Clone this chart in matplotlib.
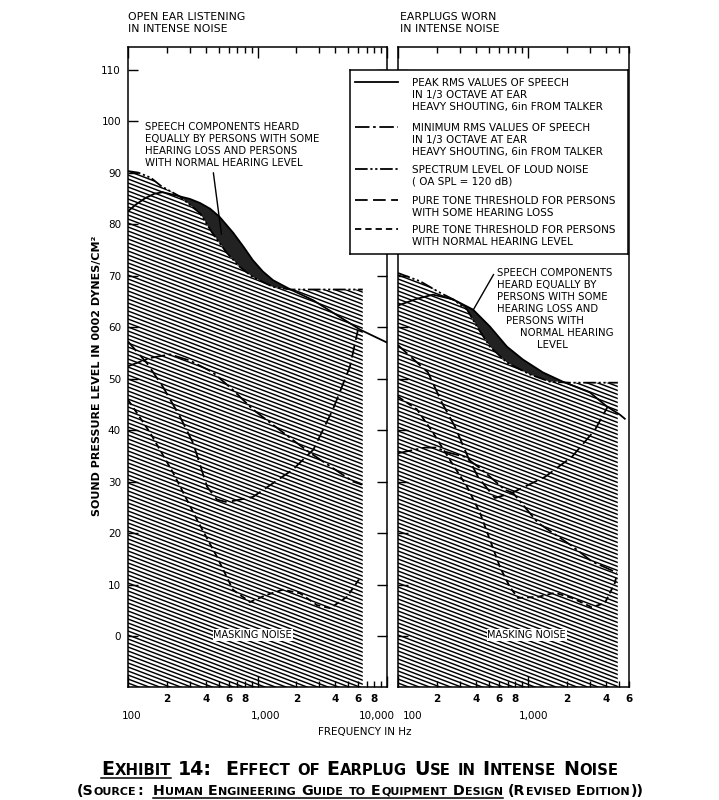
import numpy as np
import matplotlib
matplotlib.use("Agg")
import matplotlib.pyplot as plt
from matplotlib.collections import LineCollection
from matplotlib.lines import Line2D
from matplotlib.ticker import LogLocator, NullFormatter, FuncFormatter
from matplotlib.transforms import IdentityTransform

# ---- data (frequency in Hz, level in dB) ----
# open ear panel
open_noise_f = [100, 120, 150, 180, 250, 360, 450, 580, 730, 920, 1320, 1800, 6500]
open_noise_db = [90.3, 90.0, 89.0, 87.4, 85.4, 82.1, 78.2, 74.4, 71.7, 69.7, 67.8, 67.3, 67.3]
open_peak_f = [100, 115, 135, 160, 185, 250, 300, 360, 430, 510, 650, 780, 920, 1100, 1320, 1800,
               2700, 4000, 6200, 10000]
open_peak_db = [82.5, 83.8, 85.0, 85.9, 86.2, 85.4, 84.9, 84.1, 83.0, 81.4, 78.3, 75.6, 73.0, 70.8,
                69.1, 67.3, 65.2, 62.5, 59.5, 57.0]
open_min_f = [100, 148, 211, 301, 453, 646, 922, 1870, 2540, 5460, 6400]
open_min_db = [52.4, 54.0, 54.7, 53.5, 51.2, 47.8, 44.0, 38.1, 35.6, 30.0, 29.4]
open_loss_f = [100, 140, 186, 252, 318, 408, 486, 580, 920, 1870, 2700, 3820, 5170, 5970]
open_loss_db = [57.2, 53.0, 48.4, 42.6, 37.5, 29.0, 26.5, 26.0, 27.0, 32.3, 36.2, 44.0, 52.3, 59.5]
open_normal_f = [100, 148, 223, 341, 486, 646, 874, 1180, 1570, 2130, 2880, 3640, 4900, 6200]
open_normal_db = [45.9, 39.5, 31.7, 22.6, 15.4, 9.0, 6.6, 8.0, 9.0, 8.3, 6.0, 5.4, 7.6, 11.3]
open_dark = (250, 1800)

# earplugs panel
plug_noise_f = [100, 148, 210, 265, 340, 405, 510, 690, 1036, 1476, 2100, 4920]
plug_noise_db = [70.5, 68.9, 66.7, 65.4, 63.4, 60.1, 56.2, 53.1, 50.8, 49.4, 49.2, 49.2]
plug_peak_f = [100, 140, 186, 265, 378, 510, 690, 915, 1304, 1857, 3000, 4050, 5100, 5570]
plug_peak_db = [64.2, 65.5, 66.3, 65.4, 63.4, 60.1, 56.2, 53.7, 51.2, 49.4, 47.3, 44.6, 43.0, 42.2]
plug_min_f = [100, 161, 200, 230, 328, 443, 665, 767, 1194, 2180, 3100, 4840]
plug_min_db = [35.5, 36.6, 36.6, 35.8, 34.8, 32.3, 28.4, 27.8, 22.0, 17.5, 14.5, 12.3]
plug_loss_f = [100, 170, 218, 274, 345, 413, 557, 753, 1352, 2180, 3275, 4120]
plug_loss_db = [56.5, 51.2, 45.3, 40.7, 34.8, 30.9, 26.8, 27.8, 30.9, 34.8, 40.0, 44.6]
plug_normal_f = [100, 140, 186, 251, 340, 428, 510, 609, 727, 838, 1194, 1614, 2180, 3100, 3910, 4670, 4840]
plug_normal_db = [46.5, 44.0, 39.5, 34.2, 29.0, 23.9, 18.7, 13.4, 9.5, 7.4, 7.6, 8.4, 7.4, 5.6, 6.4, 10.3, 12.0]
plug_dark = (265, 1860)

y_ticks = list(range(0, 111, 10))
x_major_labels = {100: "100", 1000: "1,000", 10000: "10,000"}

legend_labels = [
    ["PEAK RMS VALUES OF SPEECH", "IN 1/3 OCTAVE AT EAR", "HEAVY SHOUTING, 6in FROM TALKER"],
    ["MINIMUM RMS VALUES OF SPEECH", "IN 1/3 OCTAVE AT EAR", "HEAVY SHOUTING, 6in FROM TALKER"],
    ["SPECTRUM LEVEL OF LOUD NOISE", "( OA SPL = 120 dB)"],
    ["PURE TONE THRESHOLD FOR PERSONS", "WITH SOME HEARING LOSS"],
    ["PURE TONE THRESHOLD FOR PERSONS", "WITH NORMAL HEARING LEVEL"],
]

# line styles
MIN_DASH = (8, 2, 1.5, 2)
NOISE_DASH = (7, 1.5, 1.2, 1.5, 1.2, 1.5)
LOSS_DASH = (7, 3)
NORMAL_DASH = (3.5, 2.2)

plt.rcParams["font.family"] = "DejaVu Sans"

W, H = 719, 800
fig = plt.figure(figsize=(W / 100, H / 100), dpi=100)
YMIN, YMAX = -9.9, 114.4


def fpos(x, y):
    # pixel from top-left -> figure fraction
    return x / W, 1 - y / H


def panel(rect_px, xmax, noise, peak, mn, loss, normal, dark, left_labels):
    x0, y0, x1, y1 = rect_px
    ax = fig.add_axes([x0 / W, 1 - y1 / H, (x1 - x0) / W, (y1 - y0) / H])
    ax.set_xscale("log")
    ax.set_xlim(100, xmax)
    ax.set_ylim(YMIN, YMAX)
    ax.set_axisbelow(False)
    for s in ax.spines.values():
        s.set_linewidth(1.1)

    nf, nd = np.array(noise[0], float), np.array(noise[1], float)
    # masking noise area with its slanted hatch
    region = ax.fill(np.r_[nf, nf[-1], nf[0]], np.r_[nd, YMIN, YMIN],
                     facecolor="white", edgecolor="none", zorder=1)[0]
    wpx, hpx = x1 - x0, y1 - y0
    k = 0.38 * wpx / hpx
    cs = np.arange(0, 1 + k + 0.01, 4.0 / hpx)
    segs = [[(0, c), (1, c - k)] for c in cs]
    lc = LineCollection(segs, colors="black", linewidths=1.05,
                        transform=ax.transAxes, zorder=1.5)
    lc.set_clip_path(region)
    ax.add_collection(lc, autolim=False)

    # speech above noise (dark band)
    pf, pd = np.array(peak[0], float), np.array(peak[1], float)
    m1 = (pf >= dark[0]) & (pf <= dark[1])
    m2 = (nf >= dark[0]) & (nf <= dark[1])
    ax.fill(np.r_[pf[m1], nf[m2][::-1]], np.r_[pd[m1], nd[m2][::-1]],
            facecolor="#222222", edgecolor="none", zorder=2)

    ax.plot(pf, pd, color="k", lw=1.3, zorder=3)
    ax.plot(mn[0], mn[1], color="k", lw=1.3, dashes=MIN_DASH, zorder=3)
    ax.plot(nf, nd, color="k", lw=1.3, dashes=NOISE_DASH, zorder=3)
    ax.plot(loss[0], loss[1], color="k", lw=1.3, dashes=LOSS_DASH, zorder=3)
    ax.plot(normal[0], normal[1], color="k", lw=1.3, dashes=NORMAL_DASH, zorder=3)

    # x ticks
    ax.xaxis.set_major_locator(LogLocator(base=10))
    ax.xaxis.set_minor_locator(LogLocator(base=10, subs=range(2, 10)))
    ax.xaxis.set_major_formatter(NullFormatter())

    def minor_fmt(v, p):
        m = int(round(v / 10 ** np.floor(np.log10(v))))
        return str(m) if m in (2, 4, 6, 8) else ""

    ax.xaxis.set_minor_formatter(FuncFormatter(minor_fmt))
    ax.tick_params(axis="x", which="both", direction="in", top=True, bottom=True,
                   labelsize=7.5, pad=5, width=1)
    ax.tick_params(axis="x", which="major", length=8)
    ax.tick_params(axis="x", which="minor", length=4.5)
    for tl in ax.xaxis.get_minorticklabels():
        tl.set_fontweight("bold")

    # y ticks
    ax.set_yticks(y_ticks)
    ax.tick_params(axis="y", which="both", direction="in", length=7, width=1,
                   left=True, right=left_labels, labelleft=left_labels,
                   labelsize=7.5, pad=5)
    ax.yaxis.set_minor_locator(plt.NullLocator())
    return ax


ax1 = panel((128, 47, 387, 687), 10000,
            (open_noise_f, open_noise_db), (open_peak_f, open_peak_db),
            (open_min_f, open_min_db), (open_loss_f, open_loss_db),
            (open_normal_f, open_normal_db), open_dark, True)
ax2 = panel((398, 47, 629, 687), 6000,
            (plug_noise_f, plug_noise_db), (plug_peak_f, plug_peak_db),
            (plug_min_f, plug_min_db), (plug_loss_f, plug_loss_db),
            (plug_normal_f, plug_normal_db), plug_dark, False)

# decade labels below the digit row
for ax, offs in ((ax1, {100: 4, 1000: 8, 10000: -10}), (ax2, {100: 15, 1000: 6})):
    for f, lab in x_major_labels.items():
        if f in offs:
            ax.annotate(lab, xy=(f, 0), xycoords=("data", "axes fraction"),
                        xytext=(offs[f], -29), textcoords="offset pixels",
                        ha="center", va="center", fontsize=7.5)

# masking noise labels
for ax, f in ((ax1, 920), (ax2, 980)):
    ax.text(f, 0.2, "MASKING NOISE", ha="center", va="center", fontsize=7,
            zorder=5, bbox=dict(facecolor="white", edgecolor="none", pad=0.6))

# panel headings
for x, lines in ((128, ["OPEN EAR LISTENING", "IN INTENSE NOISE"]),
                 (400, ["EARPLUGS WORN", "IN INTENSE NOISE"])):
    for i, s in enumerate(lines):
        fig.text(*fpos(x, 17 + 12 * i), s, ha="left", va="center", fontsize=7.8)

# axis titles
fig.text(*fpos(97, 376), "SOUND PRESSURE LEVEL IN 0002 DYNES/CM²", rotation=90,
         ha="center", va="center", fontsize=8, fontweight="bold")
fig.text(*fpos(365, 732), "FREQUENCY IN Hz", ha="center", va="center", fontsize=7.5)

# annotations
ann_left = ["SPEECH COMPONENTS HEARD", "EQUALLY BY PERSONS WITH SOME",
            "HEARING LOSS AND PERSONS", "WITH NORMAL HEARING LEVEL"]
for i, s in enumerate(ann_left):
    fig.text(*fpos(145, 127 + 12 * i), s, ha="left", va="center", fontsize=7.3)
ax1.annotate("", xy=(530, 77.5), xycoords="data", xytext=(213, H - 170),
             textcoords="figure pixels", arrowprops=dict(arrowstyle="-", lw=1, color="k"))

ann_right = [("SPEECH COMPONENTS", 497), ("HEARD EQUALLY BY", 497),
             ("PERSONS WITH SOME", 497), ("HEARING LOSS AND", 497),
             ("PERSONS WITH", 506), ("NORMAL HEARING", 520), ("LEVEL", 537)]
for i, (s, x) in enumerate(ann_right):
    fig.text(*fpos(x, 273 + 12 * i), s, ha="left", va="center", fontsize=7.3)
ax2.annotate("", xy=(371, 62.9), xycoords="data", xytext=(495, H - 272),
             textcoords="figure pixels", arrowprops=dict(arrowstyle="-", lw=1, color="k"))

# legend box
lx0, ly0, lx1, ly1 = 350, 70, 628, 254
axl = fig.add_axes([lx0 / W, 1 - ly1 / H, (lx1 - lx0) / W, (ly1 - ly0) / H])
axl.set_zorder(10)
axl.set_xlim(0, lx1 - lx0)
axl.set_ylim(ly1 - ly0, 0)
axl.set_xticks([])
axl.set_yticks([])
for s in axl.spines.values():
    s.set_linewidth(1.1)
row_top = [13, 58, 100, 131, 160]
styles = [dict(linestyle="-"), dict(dashes=MIN_DASH), dict(dashes=NOISE_DASH),
          dict(dashes=LOSS_DASH), dict(dashes=NORMAL_DASH)]
for y, lines, st in zip(row_top, legend_labels, styles):
    axl.plot([5, 48], [y - 1, y - 1], color="k", lw=1.3, **st)
    for i, s in enumerate(lines):
        axl.text(62, y + 11.8 * i, s, ha="left", va="center", fontsize=7.5)


# caption in small caps
def caption_line(text, underline, base_top, big, small, xc=360):
    renderer = fig.canvas.get_renderer()
    base = H - base_top
    sp = 0.32 * big * 100 / 72
    gap = 0.6
    items = []
    x = 0.0
    i = 0
    while i < len(text):
        if text[i] == " ":
            x += sp
            i += 1
            continue
        low = text[i].islower()
        j = i
        while j < len(text) and text[j] != " " and text[j].islower() == low:
            j += 1
        t = fig.text(0, base, text[i:j].upper(), fontsize=small if low else big,
                     fontweight="bold", transform=IdentityTransform(),
                     ha="left", va="baseline")
        w = t.get_window_extent(renderer).width
        items.append((t, x, w, i, j))
        x += w + gap
        i = j
    total = x - gap
    x0 = xc - total / 2
    for t, xx, w, i, j in items:
        t.set_x(x0 + xx)
    if underline:
        u0 = text.index(underline)
        u1 = u0 + len(underline)
        sel = [(xx, w) for t, xx, w, i, j in items if i >= u0 and j <= u1]
        left = x0 + min(s[0] for s in sel)
        right = x0 + max(s[0] + s[1] for s in sel)
        fig.add_artist(Line2D([left, right], [base - 3, base - 3],
                              transform=IdentityTransform(), color="k", lw=1.1))


caption_line("Exhibit 14:  Effect of Earplug Use in Intense Noise", "Exhibit 14",
             775, 13.7, 10.7)
caption_line("(Source:  Human Engineering Guide to Equipment Design (Revised Edition))",
             "Human Engineering Guide to Equipment Design", 795, 10.3, 8.0)

fig.savefig("out.png", dpi=100)
